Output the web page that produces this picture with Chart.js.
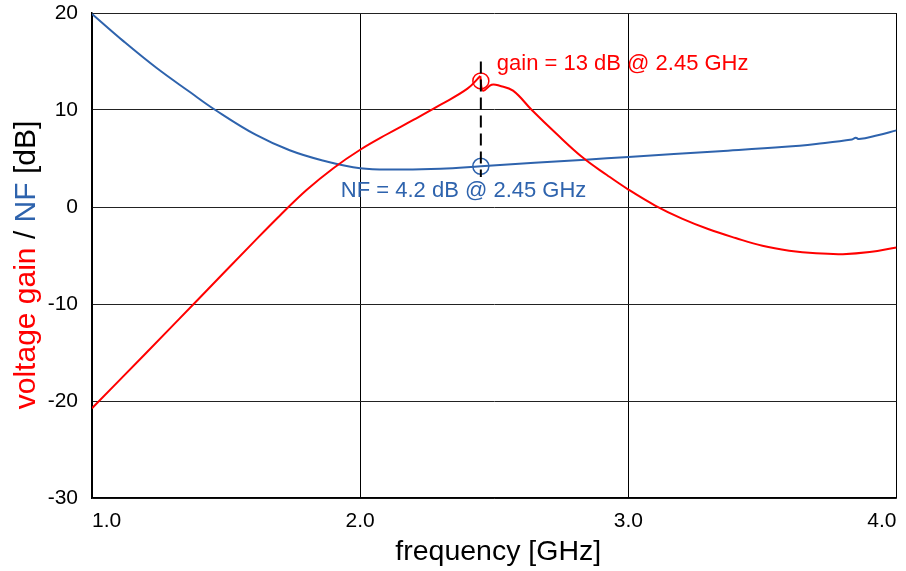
<!DOCTYPE html>
<html>
<head>
<meta charset="utf-8">
<script src="https://cdn.jsdelivr.net/npm/chart.js@4/dist/chart.umd.min.js"></script>
<style>
  html, body { margin: 0; padding: 0; background: #fff; }
  #wrap { width: 906px; height: 571px; }
</style>
</head>
<body>
<div id="wrap"><canvas id="c"></canvas></div>
<script>
'use strict';

/* ── Data ──────────────────────────────────────────────── */
const gainFreq = [1.0, 1.2, 1.4, 1.6, 1.7, 1.8, 1.9, 2.0, 2.1, 2.2, 2.3, 2.4, 2.448,
  2.458, 2.49, 2.52, 2.57, 2.64, 2.73, 2.83, 2.92, 3.0, 3.1, 3.2, 3.3, 3.4, 3.5, 3.6, 3.7, 3.8, 3.9, 4.0];
const gainDb = [-20.75, -15.1, -9.4, -3.7, -0.9, 1.75, 4.0, 5.9, 7.5, 9.0, 10.55, 12.2, 13.5,
  12.0, 12.6, 12.5, 12.0, 10.0, 7.6, 5.1, 3.3, 1.8, 0.15, -1.2, -2.3, -3.2, -4.0, -4.5, -4.78, -4.86, -4.65, -4.17];
const gainPeakFreq = 2.448; // the curve has a cusp here

const nfFreq = [1.0, 1.117, 1.24, 1.365, 1.46, 1.61, 1.737, 1.86, 2.0, 2.15, 2.3, 2.45,
  2.65, 2.84, 3.0, 3.34, 3.585, 3.7, 3.834, 3.848, 3.86, 3.93, 4.0];
const nfDb = [19.9, 17.1, 14.35, 11.85, 10.0, 7.45, 5.85, 4.8, 4.0, 3.87, 3.95, 4.2,
  4.55, 4.88, 5.16, 5.75, 6.2, 6.5, 6.95, 7.15, 7.0, 7.4, 7.9];

const markFreq = 2.45;
const markGain = 13;
const markNf = 4.2;
const cursorDb = [15.0, 3.1];

const xTicks = [1, 2, 3, 4];
const yTicks = [-30, -20, -10, 0, 10, 20];

const gainLabel = 'gain = 13 dB @ 2.45 GHz';
const nfLabel = 'NF = 4.2 dB @ 2.45 GHz';

/* ── Style ─────────────────────────────────────────────── */
const RED = '#ff0000';
const BLUE = '#2e63ad';
const FONT = '"Liberation Sans", Arial, Helvetica, sans-serif';

const pts = (xs, ys) => xs.map((x, i) => ({ x, y: ys[i] }));
const gainPts = pts(gainFreq, gainDb);
const kPeak = gainFreq.indexOf(gainPeakFreq);

/* ── Titles and annotations ────────────────────────────── */
const decor = {
  id: 'decor',
  afterDraw(chart) {
    const { ctx, chartArea: a } = chart;
    const sx = chart.scales.x, sy = chart.scales.y;
    ctx.save();

    // x title
    ctx.font = `28.5px ${FONT}`;
    ctx.fillStyle = '#000';
    ctx.textAlign = 'center';
    ctx.textBaseline = 'alphabetic';
    ctx.fillText('frequency [GHz]', (a.left + a.right) / 2 + 4, 560);

    // annotation labels
    ctx.font = `22px ${FONT}`;
    ctx.textAlign = 'left';
    ctx.fillStyle = RED;
    ctx.fillText(gainLabel, sx.getPixelForValue(markFreq) + 16, sy.getPixelForValue(markGain) - 11);
    ctx.fillStyle = BLUE;
    ctx.fillText(nfLabel, sx.getPixelForValue(markFreq) - 140, sy.getPixelForValue(markNf) + 31);

    // y title, two colours
    const parts = [['voltage gain', RED], [' / ', '#000'], ['NF', BLUE], [' [dB]', '#000']];
    ctx.font = `30px ${FONT}`;
    const total = parts.reduce((s, p) => s + ctx.measureText(p[0]).width, 0);
    ctx.translate(35, 265);
    ctx.rotate(-Math.PI / 2);
    let x = -total / 2;
    parts.forEach(([t, c]) => {
      ctx.fillStyle = c;
      ctx.fillText(t, x, 0);
      x += ctx.measureText(t).width;
    });
    ctx.restore();
  }
};

const curve = (data, color) => ({
  data,
  borderColor: color,
  borderWidth: 2,
  pointRadius: 0,
  tension: 0.4
});

const marker = (y, color) => ({
  data: [{ x: markFreq, y }],
  showLine: false,
  pointRadius: 8,
  pointBorderWidth: 1.5,
  pointBorderColor: color,
  pointBackgroundColor: 'rgba(0,0,0,0)'
});

new Chart(document.getElementById('c'), {
  type: 'line',
  data: {
    datasets: [
      {
        data: pts([markFreq, markFreq], cursorDb),
        borderColor: '#000',
        borderWidth: 2,
        borderDash: [12, 6],
        pointRadius: 0
      },
      curve(gainPts.slice(0, kPeak + 1), RED),
      curve(gainPts.slice(kPeak), RED),
      curve(pts(nfFreq, nfDb), BLUE),
      marker(markGain, RED),
      marker(markNf, BLUE)
    ]
  },
  options: {
    responsive: true,
    maintainAspectRatio: false,
    animation: false,
    layout: { padding: { left: 0, right: 8, top: 13, bottom: 0 } },
    plugins: { legend: { display: false }, tooltip: { enabled: false } },
    scales: {
      x: {
        type: 'linear',
        min: 1,
        max: 4,
        afterBuildTicks: s => { s.ticks = xTicks.map(v => ({ value: v })); },
        afterFit: s => { s.height = 73; s.paddingLeft = 0; s.paddingRight = 0; },
        ticks: {
          align: 'inner',
          maxRotation: 0,
          padding: 11,
          color: '#000',
          font: { family: FONT, size: 21 },
          callback: v => v.toFixed(1)
        },
        grid: { color: '#000', lineWidth: 1, drawTicks: false },
        border: { display: true, color: '#000', width: 1.5 }
      },
      y: {
        min: -30,
        max: 20,
        afterBuildTicks: s => { s.ticks = yTicks.map(v => ({ value: v })); },
        afterFit: s => { s.width = 92; s.paddingTop = 0; s.paddingBottom = 0; },
        ticks: {
          padding: 14,
          color: '#000',
          font: { family: FONT, size: 21 }
        },
        grid: { color: '#222', lineWidth: 1, drawTicks: false },
        border: { display: true, color: '#000', width: 1.5 }
      }
    }
  },
  plugins: [decor]
});
</script>
</body>
</html>
